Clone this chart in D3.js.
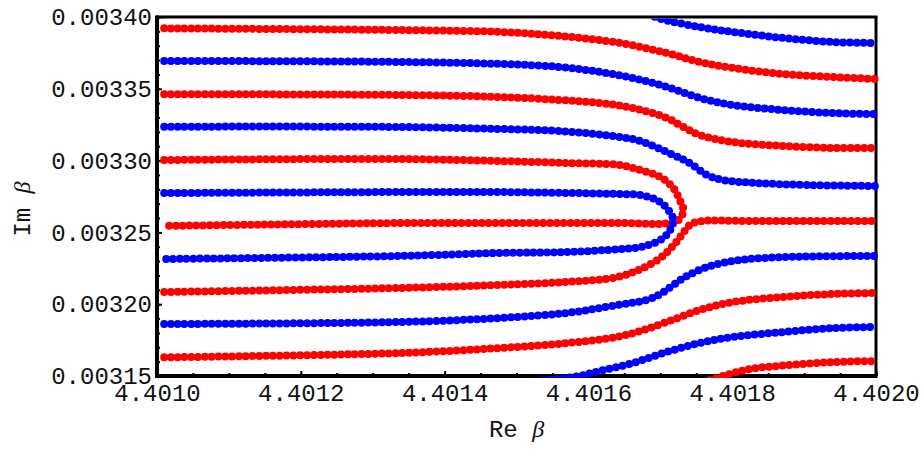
<!DOCTYPE html>
<html>
<head>
<meta charset="utf-8">
<script src="https://d3js.org/d3.v7.min.js"></script>
<style>
body { margin: 0; background: #fff; }
svg { display: block; }
.tick text { font-family: "Liberation Mono", "Courier New", monospace; font-size: 24px; fill: #111; }
.lab { font-family: "Liberation Mono", "Courier New", monospace; font-size: 24px; fill: #111; }
.greek { font-family: "Liberation Serif", "Times New Roman", serif; font-style: italic; }
</style>
</head>
<body>
<script>
// [Re beta, Im beta] along each curve
var blueTop = [[4.401338, 0.0034190], [4.401477, 0.0034174], [4.401616, 0.0034132], [4.401658, 0.0034077],
    [4.401697, 0.0033993], [4.401755, 0.0033930], [4.401801, 0.0033896], [4.401871, 0.0033854],
    [4.401940, 0.0033826], [4.402001, 0.0033819]];
var red1 = [[4.401010, 0.0033921], [4.401338, 0.0033909], [4.401477, 0.0033896], [4.401560, 0.0033868],
    [4.401644, 0.0033819], [4.401709, 0.0033749], [4.401755, 0.0033687], [4.401801, 0.0033645],
    [4.401871, 0.0033603], [4.401940, 0.0033582], [4.402001, 0.0033568]];
var blue1 = [[4.401010, 0.0033694], [4.401338, 0.0033687], [4.401477, 0.0033673], [4.401560, 0.0033652],
    [4.401616, 0.0033617], [4.401662, 0.0033575], [4.401709, 0.0033513], [4.401755, 0.0033436],
    [4.401801, 0.0033387], [4.401871, 0.0033352], [4.401940, 0.0033331], [4.402001, 0.0033324]];
var red2 = [[4.401010, 0.0033462], [4.401338, 0.0033457], [4.401477, 0.0033443], [4.401560, 0.0033422],
    [4.401616, 0.0033401], [4.401662, 0.0033366], [4.401709, 0.0033297], [4.401732, 0.0033234],
    [4.401755, 0.0033178], [4.401801, 0.0033129], [4.401871, 0.0033102], [4.401940, 0.0033088],
    [4.402001, 0.0033088]];
var blue2 = [[4.401010, 0.0033236], [4.401338, 0.0033234], [4.401477, 0.0033220], [4.401560, 0.0033206],
    [4.401644, 0.0033164], [4.401672, 0.0033136], [4.401718, 0.0033039], [4.401741, 0.0032983],
    [4.401765, 0.0032900], [4.401787, 0.0032865], [4.401834, 0.0032844], [4.401904, 0.0032830],
    [4.402001, 0.0032823]];
// turns back on itself
var red3 = [[4.401010, 0.0033004], [4.401338, 0.0033011], [4.401477, 0.0032997], [4.401570, 0.0032983],
    [4.401644, 0.0032969], [4.401672, 0.0032934], [4.401700, 0.0032886], [4.401718, 0.0032809],
    [4.401727, 0.0032726], [4.401732, 0.0032656], [4.401727, 0.0032593], [4.401713, 0.0032565],
    [4.401644, 0.0032565], [4.401477, 0.0032565], [4.401338, 0.0032565], [4.401010, 0.0032545]];
var blue3 = [[4.401010, 0.0032774], [4.401338, 0.0032781], [4.401477, 0.0032781], [4.401644, 0.0032767],
    [4.401672, 0.0032760], [4.401695, 0.0032726], [4.401710, 0.0032663], [4.401718, 0.0032586],
    [4.401713, 0.0032510], [4.401700, 0.0032447], [4.401672, 0.0032398], [4.401644, 0.0032384],
    [4.401570, 0.0032363], [4.401477, 0.0032357], [4.401338, 0.0032336], [4.401010, 0.0032315]];
var red5 = [[4.401010, 0.0032085], [4.401338, 0.0032113], [4.401477, 0.0032134], [4.401570, 0.0032155],
    [4.401640, 0.0032189], [4.401676, 0.0032252], [4.401702, 0.0032329], [4.401721, 0.0032426],
    [4.401734, 0.0032510], [4.401743, 0.0032559], [4.401758, 0.0032579], [4.401825, 0.0032579],
    [4.402001, 0.0032579]];
var blue5 = [[4.401010, 0.0031862], [4.401338, 0.0031876], [4.401477, 0.0031904], [4.401570, 0.0031939],
    [4.401640, 0.0031994], [4.401681, 0.0032029], [4.401700, 0.0032071], [4.401718, 0.0032134],
    [4.401737, 0.0032196], [4.401765, 0.0032259], [4.401811, 0.0032308], [4.401880, 0.0032329],
    [4.402001, 0.0032336]];
var red6 = [[4.401010, 0.0031630], [4.401338, 0.0031660], [4.401477, 0.0031695], [4.401570, 0.0031729],
    [4.401640, 0.0031772], [4.401672, 0.0031813], [4.401709, 0.0031876], [4.401755, 0.0031960],
    [4.401801, 0.0032015], [4.401871, 0.0032050], [4.401940, 0.0032071], [4.402001, 0.0032078]];
var blueBottom = [[4.401338, 0.0031409], [4.401477, 0.0031444], [4.401579, 0.0031493], [4.401616, 0.0031535],
    [4.401662, 0.0031591], [4.401709, 0.0031667], [4.401755, 0.0031730], [4.401801, 0.0031772],
    [4.401871, 0.0031806], [4.401940, 0.0031834], [4.402001, 0.0031841]];
var redBottom = [[4.401686, 0.0031368], [4.401755, 0.0031451], [4.401797, 0.0031514], [4.401825, 0.0031549],
    [4.401871, 0.0031573], [4.401940, 0.0031597], [4.402001, 0.0031604]];

var redCurves = [red1, red2, red3, red5, red6, redBottom];
var blueCurves = [blueTop, blue1, blue2, blue3, blue5, blueBottom];

var xTicks = [4.4010, 4.4012, 4.4014, 4.4016, 4.4018, 4.4020];
var yTicks = [0.00315, 0.00320, 0.00325, 0.00330, 0.00335, 0.00340];

var width = 921, height = 449;
var margin = {top: 17, right: 45, bottom: 73, left: 157};

var x = d3.scaleLinear().domain([4.4010, 4.4020]).range([margin.left, width - margin.right]);
var y = d3.scaleLinear().domain([0.00315, 0.00340]).range([height - margin.bottom, margin.top]);

var svg = d3.select("body").append("svg")
    .attr("width", width)
    .attr("height", height);

svg.append("defs").append("clipPath")
    .attr("id", "plot-clip")
    .append("rect")
    .attr("x", x.range()[0] + 2)
    .attr("y", y.range()[1] + 1.5)
    .attr("width", x.range()[1] - x.range()[0] + 1)
    .attr("height", y.range()[0] - y.range()[1] + 0.5);

// frame
var x0 = x.range()[0], x1 = x.range()[1], y0 = y.range()[1], y1 = y.range()[0];
svg.append("line").attr("x1", x0 - 1).attr("x2", x1 + 1.5).attr("y1", y0).attr("y2", y0)
    .attr("stroke", "#000").attr("stroke-width", 3);
svg.append("line").attr("x1", x1).attr("x2", x1).attr("y1", y0).attr("y2", y1)
    .attr("stroke", "#000").attr("stroke-width", 3);
svg.append("line").attr("x1", x0).attr("x2", x0).attr("y1", y0 - 1.5).attr("y2", y1 + 2)
    .attr("stroke", "#000").attr("stroke-width", 4);
svg.append("line").attr("x1", x0 - 2).attr("x2", x1 + 1.5).attr("y1", y1).attr("y2", y1)
    .attr("stroke", "#000").attr("stroke-width", 4);

// axes, ticks point inward
var xAxis = svg.append("g")
    .attr("transform", "translate(0," + y1 + ")")
    .call(d3.axisBottom(x).tickValues(xTicks).tickSize(-5).tickPadding(8).tickFormat(d3.format(".4f")));
var xMinor = svg.append("g")
    .attr("transform", "translate(0," + y1 + ")")
    .call(d3.axisBottom(x).ticks(20).tickSize(-3).tickFormat(""));
var yAxis = svg.append("g")
    .attr("transform", "translate(" + x0 + ",0)")
    .call(d3.axisLeft(y).tickValues(yTicks).tickSize(-5).tickPadding(5).tickFormat(d3.format(".5f")));
var yMinor = svg.append("g")
    .attr("transform", "translate(" + x0 + ",0)")
    .call(d3.axisLeft(y).ticks(25).tickSize(-3).tickFormat(""));

svg.selectAll(".domain").remove();
svg.selectAll(".tick line").attr("stroke", "#000").attr("stroke-width", 2);

// each curve is a row of dots: round caps on a zero-length dash
var line = d3.line()
    .x(function (d) { return x(d[0]); })
    .y(function (d) { return y(d[1]); })
    .curve(d3.curveCatmullRom.alpha(0.5));

var plot = svg.append("g").attr("clip-path", "url(#plot-clip)");

plot.selectAll("path.red")
    .data(redCurves)
    .enter().append("path")
    .attr("class", "red")
    .attr("d", line)
    .attr("fill", "none")
    .attr("stroke", "#ff0000")
    .attr("stroke-width", 8)
    .attr("stroke-linecap", "round")
    .attr("stroke-dasharray", "0 6.8");

plot.selectAll("path.blue")
    .data(blueCurves)
    .enter().append("path")
    .attr("class", "blue")
    .attr("d", line)
    .attr("fill", "none")
    .attr("stroke", "#0000ff")
    .attr("stroke-width", 8)
    .attr("stroke-linecap", "round")
    .attr("stroke-dasharray", "0 6.8");

// axis titles
var xt = svg.append("text")
    .attr("class", "lab")
    .attr("x", (x0 + x1) / 2)
    .attr("y", 437)
    .attr("text-anchor", "middle");
xt.append("tspan").text("Re ");
xt.append("tspan").attr("class", "greek").text("β");

var yt = svg.append("text")
    .attr("class", "lab")
    .attr("transform", "translate(30,209) rotate(-90)")
    .attr("text-anchor", "middle");
yt.append("tspan").text("Im ");
yt.append("tspan").attr("class", "greek").text("β");
</script>
</body>
</html>
